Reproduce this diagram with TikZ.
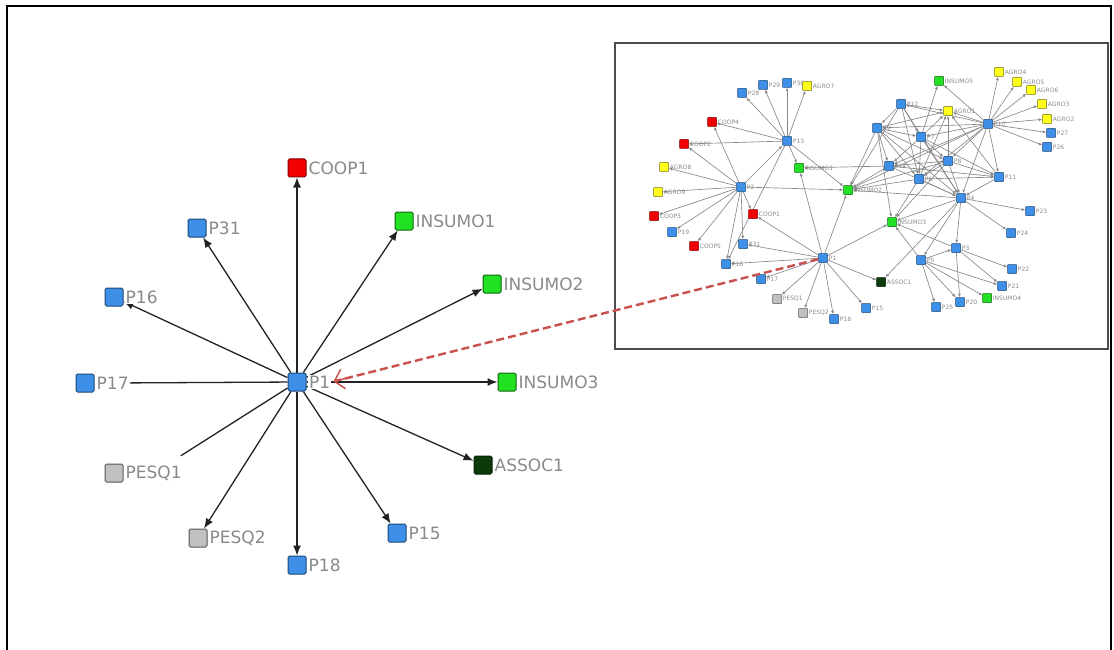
\documentclass[tikz,border=0pt]{standalone}
\usepackage{fontspec}
\setmainfont{DejaVu Sans}
\usepackage{xcolor}
\usetikzlibrary{arrows.meta,positioning,backgrounds,calc}

\definecolor{pblue}{HTML}{3D8FE8}
\definecolor{pred}{HTML}{F00000}
\definecolor{pgreen}{HTML}{22E022}
\definecolor{pdgreen}{HTML}{0B3A0B}
\definecolor{pgray}{HTML}{C0C0C0}
\definecolor{pyellow}{HTML}{FFFF1A}
\definecolor{labgray}{HTML}{8A8A8A}
\definecolor{edgegray}{HTML}{222222}
\definecolor{iedge}{HTML}{888888}
\definecolor{linkred}{HTML}{C8504D}

\tikzset{
  pnode/.style={fill=pblue, draw=pblue!50!black},
  coopnode/.style={fill=pred, draw=pred!55!black},
  insnode/.style={fill=pgreen, draw=pgreen!45!black},
  assocnode/.style={fill=pdgreen, draw=pdgreen!60!black},
  pesqnode/.style={fill=pgray, draw=pgray!45!black},
  agronode/.style={fill=pyellow, draw=pyellow!45!black},
}

\begin{document}
\begin{tikzpicture}[x=1pt, y=-1pt,
    mnode/.style={draw, rounded corners=1.5pt, minimum size=18pt, inner sep=0pt, line width=1pt},
    inode/.style={draw, rounded corners=0.6pt, minimum size=9pt, inner sep=0pt, line width=0.5pt},
    mlab/.style={fill=white, inner sep=1pt, text=labgray, font=\fontsize{17}{18}\selectfont},
    ilab/.style={inner sep=0.5pt, text=labgray, font=\fontsize{6}{7}\selectfont},
    arr/.style={-{Latex[length=10pt,width=8pt]}, line width=1.3pt, draw=edgegray},
    plain/.style={line width=1.3pt, draw=edgegray},
    iarr/.style={-{Latex[length=3.5pt,width=3pt]}, line width=0.65pt, draw=iedge},
    link/.style={line width=2.4pt, draw=linkred, dash pattern=on 8pt off 4pt},
    linktip/.style={-{Straight Barb[length=9pt,width=20pt]}, line width=1.5pt, draw=linkred},
  ]
  \useasboundingbox (0,0) rectangle (1114,650);
  \draw[line width=1.6pt] (7,652) -- (7,6) -- (1111,6) -- (1111,652);

  % ego network of P1
  \node[mnode, pnode] (p1) at (297,382) {};
  \node[mlab, right=1.5pt of p1] (p1l) {P1};
  \node[mnode, coopnode] (coop1) at (297,168) {};
  \node[mlab, right=1pt of coop1] (coop1l) {COOP1};
  \node[mnode, pnode] (p31) at (197,228) {};
  \node[mlab, right=1pt of p31] (p31l) {P31};
  \node[mnode, insnode] (insumo1) at (404,221) {};
  \node[mlab, right=1pt of insumo1] (insumo1l) {INSUMO1};
  \node[mnode, insnode] (insumo2) at (492,284) {};
  \node[mlab, right=1pt of insumo2] (insumo2l) {INSUMO2};
  \node[mnode, pnode] (p16) at (114,297) {};
  \node[mlab, right=1pt of p16] (p16l) {P16};
  \node[mnode, pnode] (p17) at (85,383) {};
  \node[mlab, right=1pt of p17] (p17l) {P17};
  \node[mnode, insnode] (insumo3) at (507,382) {};
  \node[mlab, right=1pt of insumo3] (insumo3l) {INSUMO3};
  \node[mnode, pesqnode] (pesq1) at (114,473) {};
  \node[mlab, right=1pt of pesq1] (pesq1l) {PESQ1};
  \node[mnode, assocnode] (assoc1) at (483,465) {};
  \node[mlab, right=1pt of assoc1] (assoc1l) {ASSOC1};
  \node[mnode, pesqnode] (pesq2) at (198,538) {};
  \node[mlab, right=1pt of pesq2] (pesq2l) {PESQ2};
  \node[mnode, pnode] (p15) at (397,533) {};
  \node[mlab, right=1pt of p15] (p15l) {P15};
  \node[mnode, pnode] (p18) at (297,565) {};
  \node[mlab, right=1pt of p18] (p18l) {P18};

  \begin{scope}[on background layer]
    \draw[arr] (p1) -- (coop1);
    \draw[arr] (p1) -- (p31);
    \draw[arr] (p1) -- (insumo1);
    \draw[arr] (p1) -- (insumo2);
    \draw[arr] (p1) -- (p16);
    \draw[plain] (p1) -- (p17l);
    \draw[arr] (p1) -- (insumo3);
    \draw[plain, shorten >=16pt] (p1) -- (pesq1l);
    \draw[arr] (p1) -- (assoc1);
    \draw[arr] (p1) -- (pesq2);
    \draw[arr] (p1) -- (p15);
    \draw[arr] (p1) -- (p18);
  \end{scope}

  % whole network (inset)
  \draw[line width=1.3pt, draw=black!70] (615,43) rectangle (1108,349);
  \foreach \n/\x/\y/\c/\t in {
      p28/742/93/pnode/P28, p29/763/85/pnode/P29, p30/787/83/pnode/P30,
      agro7/807/86/agronode/AGRO7, coop4/712/122/coopnode/COOP4, p13/787/141/pnode/P13,
      coop2/684/144/coopnode/COOP2, insumo1/799/168/insnode/INSUMO1, agro8/664/167/agronode/AGRO8,
      p2/741/187/pnode/P2, agro9/658/192/agronode/AGRO9, insumo2/848/190/insnode/INSUMO2,
      coop3/654/216/coopnode/COOP3, coop1/753/214/coopnode/COOP1, p19/672/232/pnode/P19,
      coop5/694/246/coopnode/COOP5, p31/743/244/pnode/P31, p1/823/258/pnode/P1,
      p16/726/264/pnode/P16, p17/761/279/pnode/P17, pesq1/777/299/pesqnode/PESQ1,
      pesq2/803/313/pesqnode/PESQ2, p18/834/319/pnode/P18, insumo5/939/81/insnode/INSUMO5,
      agro4/999/72/agronode/AGRO4, agro5/1017/82/agronode/AGRO5, agro6/1031/90/agronode/AGRO6,
      agro3/1042/104/agronode/AGRO3, agro2/1047/119/agronode/AGRO2, p27/1051/133/pnode/P27,
      p26/1047/147/pnode/P26, p12/901/104/pnode/P12, agro1/948/111/agronode/AGRO1,
      p10/988/124/pnode/P10, p9/877/128/pnode/P9, p7/921/137/pnode/P7,
      p8/948/161/pnode/P8, p14/889/166/pnode/P14, p6/919/179/pnode/P6,
      p11/999/177/pnode/P11, p4/961/198/pnode/P4, p23/1030/211/pnode/P23,
      p24/1011/233/pnode/P24, insumo3/892/222/insnode/INSUMO3, p3/956/248/pnode/P3,
      p5/921/260/pnode/P5, p22/1012/269/pnode/P22, assoc1/881/282/assocnode/ASSOC1,
      p21/1002/286/pnode/P21, insumo4/987/298/insnode/INSUMO4, p20/960/302/pnode/P20,
      p25/936/307/pnode/P25, p15/866/308/pnode/P15}
  {
    \node[inode, \c] (i\n) at (\x,\y) {};
    \node[ilab, right=0.5pt of i\n] (i\n-l) {\t};
  }

  \begin{scope}[on background layer]
    \foreach \a/\b in {
        p13/p28, p13/p29, p13/p30, p13/agro7, p13/coop4, p13/coop2, p13/insumo1, p13/insumo2,
        p13/p16, p2/p13, p2/agro8, p2/agro9, p2/coop3, p2/p19, p2/coop5, p2/p16, p2/p31,
        p2/coop1, p2/coop4, p2/coop2, p2/insumo2,
        p1/coop1, p1/p31, p1/p16, p1/p17, p1/pesq1, p1/pesq2, p1/p18, p1/p15, p1/assoc1,
        p1/insumo1, p1/insumo2, p1/insumo3, p14/insumo1,
        p10/agro4, p10/agro5, p10/agro6, p10/agro3, p10/agro2, p10/p27, p10/p26, p10/insumo5,
        p10/agro1, p10/p12, p10/p9, p10/p7, p10/p8, p10/p14, p10/p6, p10/p11, p10/p4, p10/insumo2,
        p12/agro1, p12/p9, p12/p7, p12/p6, p12/p4, p9/p7, p9/p14, p9/p6, p9/agro1, p9/p4,
        p9/insumo2, p9/p8, p7/agro1, p7/insumo5, p7/p8, p7/p11, p7/p4, p7/p14, p7/p6,
        p8/agro1, p8/p11, p8/p4, p8/p14, p8/p6, p14/p11, p14/p4, p6/p4, p6/p11, p6/agro1,
        p11/p4, p11/agro1, p4/p23, p4/p24, p4/p3, p4/p5, p4/assoc1, p4/insumo3, p4/insumo2,
        p6/insumo2, p8/insumo2, p14/insumo2, p12/insumo2,
        p3/p22, p3/p21, p3/p20, p3/insumo3, p5/p3, p5/p25, p5/p20, p5/insumo4, p5/p21,
        p5/insumo3, p9/insumo3, p6/insumo3, p8/insumo3}
      \draw[iarr] (i\a) -- (i\b);
  \end{scope}

  % link from the whole network to the ego view
  \draw[link, shorten >=5pt] (ip1) -- (p1l.east);
  \draw[linktip] ($(p1l.east)!14pt!(ip1)$) -- ($(p1l.east)!2pt!(ip1)$);
\end{tikzpicture}
\end{document}
